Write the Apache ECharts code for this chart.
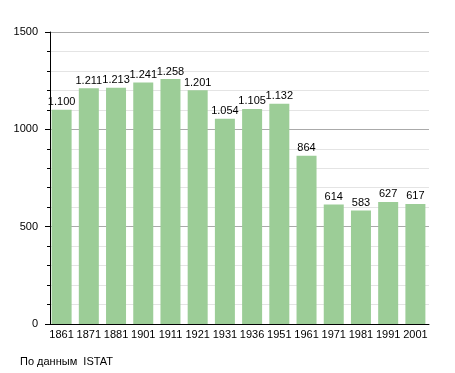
<!DOCTYPE html>
<html><head><meta charset="utf-8">
<script src="https://cdn.jsdelivr.net/npm/echarts@6/dist/echarts.min.js"></script>
<style>html,body{margin:0;padding:0;background:#fff}#c{width:455px;height:373px}</style>
</head><body><div id="c"></div>
<script>
const categories = ['1861','1871','1881','1901','1911','1921','1931','1936','1951','1961','1971','1981','1991','2001'];
const population = [1100,1211,1213,1241,1258,1201,1054,1105,1132,864,614,583,627,617];
const yTicks = [0,500,1000,1500];
const sourceText = 'По данным  ISTAT';
const font = 'Liberation Sans, Arial, sans-serif';
const fmt = v => { const s = String(v); return s.length > 3 ? s.slice(0, s.length-3) + '.' + s.slice(-3) : s; };
const chart = echarts.init(document.getElementById('c'), null, {renderer:'canvas'});
chart.setOption({
  animation:false,
  grid:{left:48,right:26,top:32,bottom:49},
  xAxis:{type:'category',data:categories,
    axisLine:{lineStyle:{color:'#000',width:1}},
    axisTick:{show:false},
    axisLabel:{color:'#000',fontFamily:font,fontSize:11,margin:5,interval:0}},
  yAxis:{type:'value',min:yTicks[0],max:yTicks[yTicks.length-1],interval:500,offset:-2,
    axisLine:{show:true,lineStyle:{color:'#000',width:1}},
    axisTick:{show:true,length:5,lineStyle:{color:'#000'}},
    minorTick:{show:true,splitNumber:5,length:3,lineStyle:{color:'#000'}},
    splitLine:{lineStyle:{color:'#aaaaaa',width:1}},
    minorSplitLine:{show:true,lineStyle:{color:'#e4e4e4',width:1}},
    axisLabel:{color:'#000',fontFamily:font,fontSize:11,margin:12,formatter:v=>String(v)}},
  series:[{type:'bar',data:population,barWidth:20,
    itemStyle:{color:'#9ccd97'},
    label:{show:true,position:'top',distance:2,color:'#000',fontFamily:font,fontSize:11,formatter:p=>fmt(p.value)}}],
  graphic:[{type:'text',left:20,top:356,style:{text:sourceText,fill:'#000',font:'11px '+font}}]
});
</script></body></html>
